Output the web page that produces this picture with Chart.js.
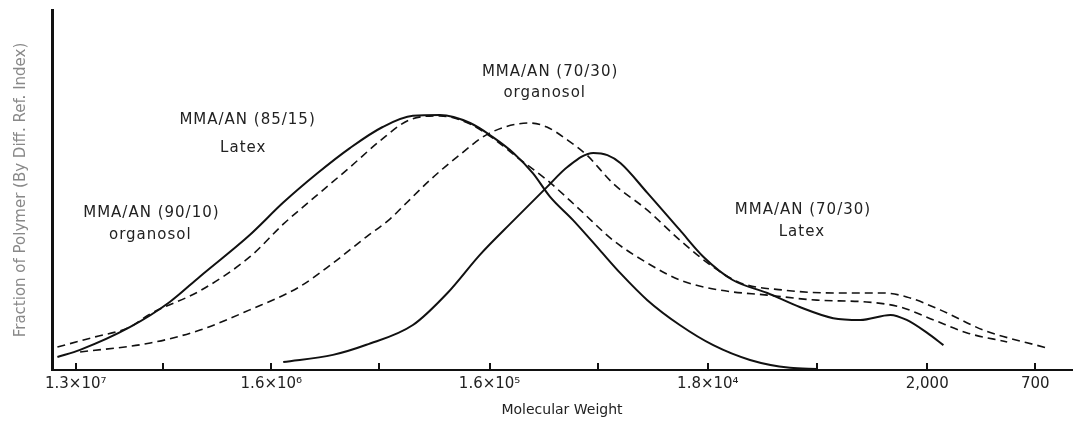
<!DOCTYPE html>
<html>
<head>
<meta charset="utf-8">
<script src="https://cdn.jsdelivr.net/npm/chart.js@4/dist/chart.umd.min.js"></script>
<style>
  html, body { margin: 0; padding: 0; background: #fff; }
  #wrap { width: 1074px; height: 431px; }
</style>
</head>
<body>
<div id="wrap"><canvas id="grafico" width="1074" height="431"></canvas></div>
<script>
/* data: x = position along the molecular weight scale, y = fraction of polymer */
var latex8515X = [-0.17, 0.04, 0.5, 0.87, 1.15, 1.61, 1.92, 2.23, 2.54, 2.84, 3.12, 3.37, 3.65, 3.86, 4.05, 4.23, 4.39, 4.6, 4.85, 5.04, 5.29, 5.59, 5.9, 6.24, 6.61, 6.86];
var latex8515Y = [3.6, 5.6, 11.9, 18.9, 26, 37.5, 46.5, 54.5, 61.7, 67.5, 70.6, 70.8, 68.6, 64.7, 60.3, 54.7, 48.1, 41.7, 33.3, 26.9, 19.4, 12.5, 6.9, 2.8, 0.6, 0.3];

var org9010X = [-0.17, 0.18, 0.5, 0.69, 1.15, 1.61, 1.92, 2.23, 2.54, 2.81, 3.09, 3.37, 3.65, 3.86, 4.08, 4.36, 4.67, 4.97, 5.29, 5.59, 5.96, 6.4, 6.86, 7.32, 7.63, 7.94, 8.25, 8.62];
var org9010Y = [6.4, 9.2, 11.9, 15.6, 22, 31.4, 40.5, 48.5, 56.4, 63.5, 69.5, 70.6, 68.3, 64.4, 59.2, 52.8, 44.4, 36.1, 29.7, 25, 22.2, 20.8, 19.4, 18.9, 17.5, 13.9, 10.3, 7.8];

var org7030X = [0.04, 0.69, 1.15, 1.61, 2.07, 2.38, 2.69, 2.91, 3.06, 3.28, 3.53, 3.83, 4.2, 4.36, 4.55, 4.73, 4.97, 5.29, 5.59, 5.9, 6.15, 6.55, 7.01, 7.47, 7.69, 8, 8.4, 8.99];
var org7030Y = [5, 7.5, 11.1, 16.7, 23.1, 29.7, 37, 42, 46.4, 52.8, 59.2, 65.8, 68.6, 67.5, 63.9, 59.7, 51.9, 44.4, 36.1, 28.6, 24.2, 22.2, 21.4, 21.4, 20.3, 16.7, 11.1, 6.1];

var latex7030X = [1.92, 2.38, 2.69, 3.12, 3.44, 3.74, 4.05, 4.36, 4.55, 4.79, 4.92, 5.04, 5.29, 5.59, 5.81, 6.08, 6.4, 6.7, 7.01, 7.26, 7.54, 7.69, 7.88, 8.03];
var latex7030Y = [2.2, 4.2, 7, 12.5, 21.4, 32, 41.5, 50.8, 56.4, 60.3, 59.7, 57.5, 49.2, 38.9, 31.4, 25, 21.4, 17.5, 14.4, 13.9, 15.3, 13.9, 10.3, 6.9];

var tickPos = [0, 0.81, 1.81, 2.81, 3.83, 4.83, 5.85, 6.86, 7.88, 8.88];
var tickLabels = ['1.3×10⁷', '', '1.6×10⁶', '', '1.6×10⁵', '', '1.8×10⁴', '', '2,000', '700'];

var notes = [
  { text: 'MMA/AN (85/15)', x: 1.59, y: 69.4 },
  { text: 'Latex', x: 1.55, y: 61.7 },
  { text: 'MMA/AN (90/10)', x: 0.7, y: 43.6 },
  { text: 'organosol', x: 0.69, y: 37.5 },
  { text: 'MMA/AN (70/30)', x: 4.39, y: 82.8 },
  { text: 'organosol', x: 4.34, y: 76.9 },
  { text: 'MMA/AN (70/30)', x: 6.73, y: 44.4 },
  { text: 'Latex', x: 6.72, y: 38.3 }
];

function pts(xs, ys) {
  var out = [];
  for (var i = 0; i < xs.length; i++) {
    out.push({ x: xs[i], y: ys[i] });
  }
  return out;
}

function serie(label, xs, ys, dashed) {
  return {
    label: label,
    data: pts(xs, ys),
    borderColor: '#111',
    borderWidth: dashed ? 1.6 : 2,
    borderDash: dashed ? [8, 5] : [],
    pointRadius: 0,
    cubicInterpolationMode: 'monotone',
    fill: false
  };
}

var extras = {
  id: 'extras',
  afterDraw: function(chart) {
    var ctx = chart.ctx;
    var xs = chart.scales.x, ys = chart.scales.y;
    var base = chart.chartArea.bottom;
    ctx.save();
    // tick marks pointing up into the plot
    ctx.strokeStyle = '#111';
    ctx.lineWidth = 2;
    for (var i = 0; i < tickPos.length; i++) {
      var px = Math.round(xs.getPixelForValue(tickPos[i]));
      ctx.beginPath();
      ctx.moveTo(px, base);
      ctx.lineTo(px, base - 7);
      ctx.stroke();
    }
    // curve labels
    ctx.fillStyle = '#222';
    ctx.font = '15px "DejaVu Sans"';
    ctx.letterSpacing = '1px';
    ctx.textAlign = 'center';
    ctx.textBaseline = 'middle';
    for (var j = 0; j < notes.length; j++) {
      ctx.fillText(notes[j].text, xs.getPixelForValue(notes[j].x), ys.getPixelForValue(notes[j].y));
    }
    ctx.restore();
  }
};

var ctx = document.getElementById('grafico');
var grafico = new Chart(ctx, {
  type: 'line',
  data: {
    datasets: [
      serie('MMA/AN (85/15) Latex', latex8515X, latex8515Y, false),
      serie('MMA/AN (90/10) organosol', org9010X, org9010Y, true),
      serie('MMA/AN (70/30) organosol', org7030X, org7030Y, true),
      serie('MMA/AN (70/30) Latex', latex7030X, latex7030Y, false)
    ]
  },
  options: {
    responsive: false,
    animation: false,
    layout: { padding: { top: 10, right: 2, left: 0, bottom: 0 } },
    plugins: {
      legend: { display: false },
      tooltip: { enabled: false }
    },
    scales: {
      x: {
        type: 'linear',
        min: -0.22,
        max: 9.22,
        afterFit: function(scale) { scale.height = 61; },
        afterBuildTicks: function(scale) {
          scale.ticks = tickPos.map(function(v) { return { value: v }; });
        },
        grid: { display: false, drawTicks: false },
        border: { display: true, color: '#111', width: 2 },
        ticks: {
          autoSkip: false,
          maxRotation: 0,
          padding: 5,
          color: '#222',
          font: { family: 'DejaVu Sans', size: 15 },
          callback: function(v, i) { return tickLabels[i]; }
        },
        title: {
          display: true,
          text: 'Molecular Weight',
          color: '#222',
          font: { family: 'DejaVu Sans', size: 14 },
          padding: { top: 4, bottom: 12 }
        }
      },
      y: {
        min: 0,
        max: 100,
        afterFit: function(scale) { scale.width = 52; },
        grid: { display: false, drawTicks: false },
        border: { display: true, color: '#111', width: 3 },
        ticks: { display: false },
        title: {
          display: true,
          text: 'Fraction of Polymer (By Diff. Ref. Index)',
          color: '#888',
          font: { family: 'DejaVu Sans', size: 15 },
          padding: { top: 12, bottom: 0 }
        }
      }
    }
  },
  plugins: [extras]
});
</script>
</body>
</html>
